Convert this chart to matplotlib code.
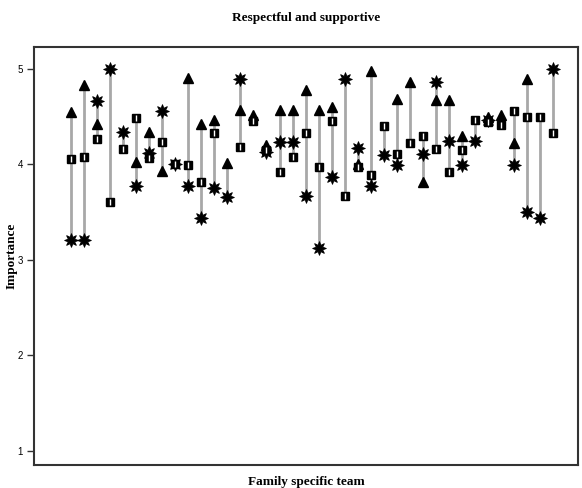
import numpy as np
import matplotlib
matplotlib.use("Agg")
import matplotlib.pyplot as plt

nan = np.nan

# one column per team member
teams = np.arange(1, 39)

tri = [4.55, 4.83, 4.42, nan, nan, 4.03, 4.34, 3.93, nan, 4.90,
       4.42, 4.47, 4.01, 4.57, 4.52, 4.20, 4.57, 4.57, 4.78, 4.57,
       4.60, nan, 4.00, 4.98, nan, 4.68, 4.86, 3.82, 4.67, 4.67,
       4.30, nan, 4.50, 4.52, 4.22, 4.89, nan, nan]

sq = [4.06, 4.08, 4.27, 3.61, 4.16, 4.49, 4.07, 4.23, 4.00, 3.99,
      3.82, 4.33, nan, 4.18, 4.45, 4.15, 3.92, 4.08, 4.33, 3.97,
      4.45, 3.67, 3.97, 3.89, 4.40, 4.11, 4.22, 4.30, 4.16, 3.92,
      4.15, 4.47, 4.44, 4.41, 4.56, 4.50, 4.50, 4.33]

star = [3.21, 3.21, 4.66, 5.00, 4.34, 3.77, 4.12, 4.56, 4.00, 3.77,
        3.44, 3.75, 3.66, 4.89, nan, 4.13, 4.23, 4.23, 3.67, 3.12,
        3.87, 4.89, 4.17, 3.77, 4.10, 3.99, nan, 4.11, 4.86, 4.25,
        3.99, 4.25, 4.46, nan, 3.99, 3.50, 3.44, 5.00]

tri = np.array(tri)
sq = np.array(sq)
star = np.array(star)

fig = plt.figure(figsize=(5.82, 4.88), dpi=100)
ax = fig.add_axes([0.0584, 0.0471, 0.9346, 0.8566])

# range line for each column
allv = np.vstack([tri, sq, star])
lo = np.nanmin(allv, axis=0)
hi = np.nanmax(allv, axis=0)
ax.vlines(teams, lo, hi, color="#a8a8a8", lw=2, zorder=1)

ax.plot(teams, star, ls="none", marker=(8, 1, 0), ms=10, color="black",
        mew=0.6, zorder=3)
ax.plot(teams, tri, ls="none", marker="^", ms=7, color="black", zorder=3)
ax.plot(teams, sq, ls="none", marker="s", ms=6, color="black", zorder=4)
ax.plot(teams, sq, ls="none", marker="|", ms=4, color="white", mew=1,
        zorder=5)

ax.set_xlim(-1.84, 39.9)
ax.set_ylim(0.85, 5.23)
ax.set_xticks([])
ax.set_yticks([1, 2, 3, 4, 5])
ax.set_yticklabels(["1", "2", "3", "4", "5"], fontfamily="Liberation Sans",
                   fontsize=7)
ax.tick_params(axis="y", length=5, width=1, color="#333333", pad=3)
for s in ax.spines.values():
    s.set_linewidth(1.5)
    s.set_color("#333333")

ax.set_title("Respectful and supportive", fontfamily="Liberation Serif",
             fontweight="bold", fontsize=9.5, pad=19)
ax.set_xlabel("Family specific team", fontfamily="Liberation Serif",
              fontweight="bold", fontsize=9.5, labelpad=8)
ax.set_ylabel("Importance", fontfamily="Liberation Serif",
              fontweight="bold", fontsize=9.5)
ax.yaxis.set_label_coords(-0.03, 0.5)

fig.savefig("out.png", dpi=100)
